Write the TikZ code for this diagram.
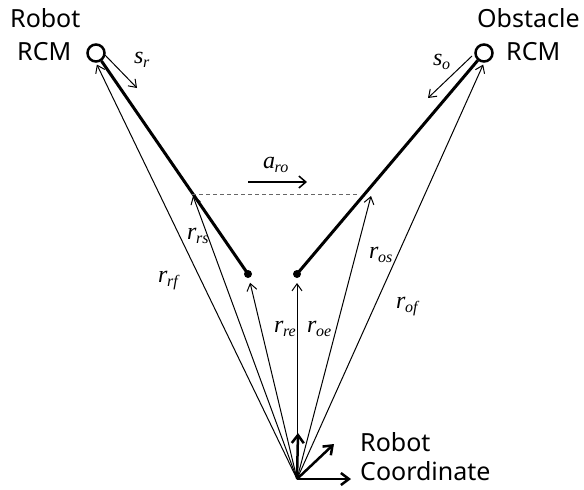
\documentclass[tikz,border=0pt]{standalone}
\usepackage{fontspec}
\setmainfont{Liberation Serif}
\newfontfamily\sansf{Noto Sans}
\usetikzlibrary{arrows.meta}
\newcommand\vlab[2]{{\fontsize{24}{24}\selectfont\itshape #1\kern-0.5pt\raisebox{-4pt}{\fontsize{16}{16}\selectfont #2}}}
\begin{document}
\begin{tikzpicture}[x=1pt,y=-1pt,
  rcm/.style={circle,draw,line width=2.5pt,minimum size=17pt,inner sep=0pt,fill=white},
  enddot/.style={circle,fill,inner sep=0pt,minimum size=8pt},
  thickbar/.style={line width=3pt},
  vec/.style={line width=1pt,-{Straight Barb[length=7pt,width=10pt,line width=1pt]}},
  axis/.style={line width=2.5pt,-{Straight Barb[length=8pt,width=12pt,line width=2.5pt]}},
  sanslab/.style={anchor=base west,inner sep=0pt,font=\sansf\fontsize{25}{25}\selectfont},
  mlab/.style={anchor=base west,inner sep=0pt}]
\useasboundingbox (0,0) rectangle (584,490);
\fill[white] (0,0) rectangle (584,490);
% key points
\coordinate (O) at (297,479);
\node[rcm] (robrcm) at (96,53) {};
\node[rcm] (obsrcm) at (484,53) {};
\node[enddot] (reend) at (248,274) {};
\node[enddot] (obend) at (297,274) {};
\coordinate (rs) at (193,196);
\coordinate (os) at (371,196);
\coordinate (dashL) at (192,194);
\coordinate (dashR) at (359,194);
% thick bars
\draw[thickbar] (robrcm) -- (reend.center);
\draw[thickbar] (obsrcm) -- (obend.center);
% dashed line
\draw[gray!80!black,line width=1pt,dash pattern=on 4pt off 3pt] (dashL) -- (dashR);
% position vectors
\draw[vec,shorten >=2pt] (O) -- (robrcm.south);
\draw[vec] (O) -- (rs);
\draw[vec,shorten >=9pt] (O) -- (reend.center);
\draw[vec,shorten >=9pt] (O) -- (obend.center);
\draw[vec] (O) -- (os);
\draw[vec,shorten >=2pt] (O) -- (obsrcm.south);
% small direction arrows
\coordinate (srA) at (105,55); \coordinate (srB) at (137,88);
\coordinate (soA) at (472,56); \coordinate (soB) at (428,98);
\coordinate (aA) at (248,182); \coordinate (aB) at (307,182);
\draw[vec] (srA) -- (srB);
\draw[vec] (soA) -- (soB);
\draw[line width=1.8pt,-{Straight Barb[length=7pt,width=12pt,line width=1.5pt]}] (aA) -- (aB);
% coordinate frame
\coordinate (ax1) at (298,433);
\coordinate (ax2) at (334,444);
\coordinate (ax3) at (351,479);
\draw[axis] (O) -- (ax1);
\draw[axis] (O) -- (ax2);
\draw[axis] (O) -- (ax3);
% labels
\node[mlab] (lsr) at (134,63) {\vlab{s}{r}};
\node[mlab] (lso) at (433,65) {\vlab{s}{o}};
\node[mlab] (laro) at (263,168) {\vlab{a}{ro}};
\node[mlab] (lrs) at (187,239) {\vlab{r}{rs}};
\node[mlab] (lrf) at (158,282) {\vlab{r}{rf}};
\node[mlab] (lre) at (274,332) {\vlab{r}{re}};
\node[mlab] (loe) at (307,332) {\vlab{r}{oe}};
\node[mlab] (los) at (369,258) {\vlab{r}{os}};
\node[mlab] (lof) at (396,308) {\vlab{r}{of}};
% texts
\node[sanslab] (t1) at (10,27) {Robot};
\node[sanslab] (t2) at (17,60) {RCM};
\node[sanslab] (t3) at (477,27) {Obstacle};
\node[sanslab] (t4) at (506,60) {RCM};
\node[sanslab] (t5) at (360,451) {Robot};
\node[sanslab] (t6) at (360,480) {Coordinate};
\end{tikzpicture}
\end{document}
